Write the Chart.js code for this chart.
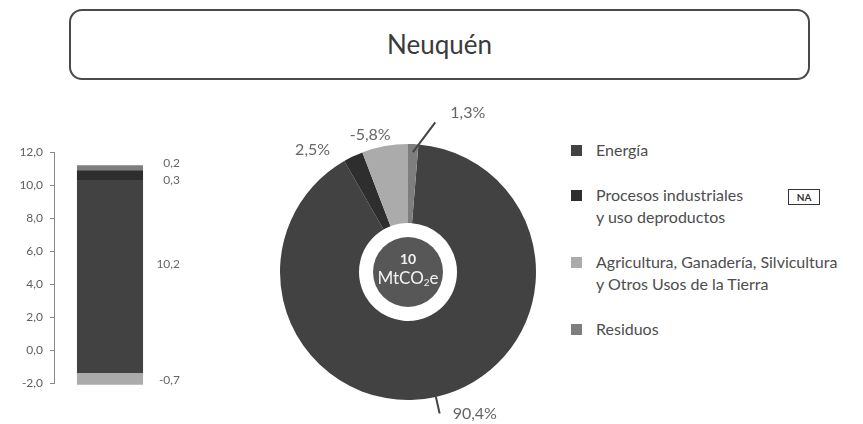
<!DOCTYPE html>
<html lang="es">
<head>
<meta charset="utf-8">
<script src="https://cdn.jsdelivr.net/npm/chart.js@4.4.1/dist/chart.umd.min.js"></script>
<style>
  html, body { margin: 0; padding: 0; background: #fff; }
  body { width: 863px; height: 424px; position: relative; overflow: hidden; font-family: Lato, sans-serif; }
  .title {
    position: absolute; left: 69px; top: 9px; width: 741px; height: 71px;
    border: 2px solid #4a4a4a; border-radius: 13px; box-sizing: border-box;
    text-align: center; line-height: 67px; font-size: 26px; color: #3a3a3a;
  }
  #barChart { position: absolute; left: 0; top: 0; }
  #donutChart { position: absolute; left: 250px; top: 90px; }
  #legend { position: absolute; left: 571px; top: 139px; }
  .item { position: relative; display: flex; margin-bottom: 23px; }
  .box { width: 11px; height: 11px; margin-top: 6px; flex: none; }
  .text { margin-left: 14px; font-size: 16px; line-height: 22px; color: #4d4d4d; white-space: nowrap; }
  .na {
    position: absolute; left: 217px; top: 5px; width: 32px; height: 16px; box-sizing: border-box;
    border: 1px solid #333; font-size: 10px; font-weight: bold; line-height: 14px; text-align: center; color: #333;
  }
</style>
</head>
<body>
<div class="title">Neuquén</div>
<canvas id="barChart" width="220" height="424"></canvas>
<canvas id="donutChart" width="316" height="334"></canvas>
<div id="legend"></div>
<script>
// Categories (legend order)
const categories = [
  'Energía',
  'Procesos industriales\ny uso deproductos',
  'Agricultura, Ganadería, Silvicultura\ny Otros Usos de la Tierra',
  'Residuos'
];
const colors = ['#424242', '#2e2e2e', '#ababab', '#7e7e7e'];

// Stacked column as drawn (MtCO2e), [start, end] of each segment
const barRanges = [[-1.4, 10.3], [10.3, 10.9], [-2.1, -1.4], [10.9, 11.2]];
const barLabels = ['10,2', '0,3', '-0,7', '0,2'];
const barLabelAt = [5.2, 10.28, -1.83, 11.32];
const yMin = -2, yMax = 12, yStep = 2;

// Donut shares (%)
const shares = [90.4, 2.5, 5.8, 1.3];
const shareLabels = ['90,4%', '2,5%', '-5,8%', '1,3%'];
const naFlags = [false, true, false, false];
const totalValue = '10';

const fmt = (v) => v.toFixed(1).replace('.', ',');

// Legend
const legend = document.getElementById('legend');
categories.forEach((c, i) => {
  const item = document.createElement('div');
  item.className = 'item';
  item.innerHTML = '<div class="box" style="background:' + colors[i] + '"></div>' +
    '<div class="text">' + c.split('\n').join('<br>') + '</div>' +
    (naFlags[i] ? '<div class="na">NA</div>' : '');
  legend.appendChild(item);
});

// Bar chart
const barValueLabels = {
  id: 'barValueLabels',
  afterDatasetsDraw(chart) {
    const { ctx, chartArea } = chart;
    const y = chart.scales.y;
    ctx.save();
    ctx.font = '12px Lato';
    ctx.fillStyle = '#666';
    ctx.textAlign = 'right';
    ctx.textBaseline = 'middle';
    barLabels.forEach((t, i) => ctx.fillText(t, chartArea.right + 14, y.getPixelForValue(barLabelAt[i])));
    ctx.restore();
  }
};

new Chart(document.getElementById('barChart'), {
  type: 'bar',
  data: {
    labels: ['Neuquén'],
    datasets: categories.map((c, i) => ({
      label: c,
      data: [barRanges[i]],
      backgroundColor: colors[i],
      borderWidth: 0,
      grouped: false,
      clip: false,
      barPercentage: 0.59,
      categoryPercentage: 1
    }))
  },
  options: {
    responsive: false,
    animation: false,
    layout: { padding: { left: 0, right: 54, top: 152, bottom: 41 } },
    plugins: { legend: { display: false }, tooltip: { enabled: false } },
    scales: {
      x: { display: false },
      y: {
        min: yMin,
        max: yMax,
        afterFit: (scale) => { scale.width = 54; },
        ticks: {
          stepSize: yStep,
          padding: 7,
          color: '#5e5e5e',
          font: { family: 'Lato', size: 12 },
          callback: (v) => fmt(v)
        },
        grid: { drawOnChartArea: false, drawTicks: true, tickLength: 4, color: '#888' },
        border: { display: true, color: '#888', width: 1 }
      }
    }
  },
  plugins: [barValueLabels]
});

// Donut chart
const pctLayout = [
  { leader: [128, 145], dAng: 0, r: 145, tx: 13, ty: 0, align: 'left' },
  { leader: null, dAng: -12.6, r: 155, tx: 0, ty: 0, align: 'center' },
  { leader: null, dAng: -5, r: 142, tx: 0, ty: 0, align: 'center' },
  { leader: [120, 152], dAng: 8, r: 152, tx: 15, ty: -10, align: 'left' }
];

const donutLabels = {
  id: 'donutLabels',
  afterDatasetsDraw(chart) {
    const { ctx } = chart;
    const arcs = chart.getDatasetMeta(0).data;
    const cx = arcs[0].x, cy = arcs[0].y;

    // centre badge
    ctx.save();
    ctx.beginPath();
    ctx.arc(cx, cy, 35, 0, Math.PI * 2);
    ctx.fillStyle = '#575757';
    ctx.fill();
    ctx.fillStyle = '#f2f2f2';
    ctx.textBaseline = 'middle';
    ctx.textAlign = 'center';
    ctx.font = 'bold 14px Lato';
    ctx.fillText(totalValue, cx, cy - 13);
    const a = 'MtCO', b = '2', c = 'e';
    ctx.font = '17px Lato';
    const wa = ctx.measureText(a).width, wc = ctx.measureText(c).width;
    ctx.font = '10px Lato';
    const wb = ctx.measureText(b).width;
    let x = cx - (wa + wb + wc) / 2;
    ctx.textAlign = 'left';
    ctx.font = '17px Lato';
    ctx.fillText(a, x, cy + 7);
    ctx.font = '10px Lato';
    ctx.fillText(b, x + wa, cy + 11);
    ctx.font = '17px Lato';
    ctx.fillText(c, x + wa + wb, cy + 7);

    // percentage labels
    ctx.font = '16px Lato';
    ctx.fillStyle = '#666';
    ctx.strokeStyle = '#444';
    ctx.lineWidth = 2;
    arcs.forEach((arc, i) => {
      const L = pctLayout[i];
      const mid = (arc.startAngle + arc.endAngle) / 2;
      const ang = mid + L.dAng * Math.PI / 180;
      const px = cx + Math.cos(ang) * L.r, py = cy + Math.sin(ang) * L.r;
      if (L.leader) {
        ctx.beginPath();
        ctx.moveTo(cx + Math.cos(mid) * L.leader[0], cy + Math.sin(mid) * L.leader[0]);
        ctx.lineTo(px, py);
        ctx.stroke();
      }
      ctx.textAlign = L.align;
      ctx.fillText(shareLabels[i], px + L.tx, py + L.ty);
    });
    ctx.restore();
  }
};

new Chart(document.getElementById('donutChart'), {
  type: 'doughnut',
  data: {
    labels: categories,
    datasets: [{ data: shares, backgroundColor: colors, borderWidth: 0 }]
  },
  options: {
    responsive: false,
    animation: false,
    cutout: 49,
    rotation: shares[3] / 100 * 360,
    layout: { padding: { left: 30, right: 30, top: 54, bottom: 24 } },
    plugins: { legend: { display: false }, tooltip: { enabled: false } }
  },
  plugins: [donutLabels]
});
</script>
</body>
</html>
